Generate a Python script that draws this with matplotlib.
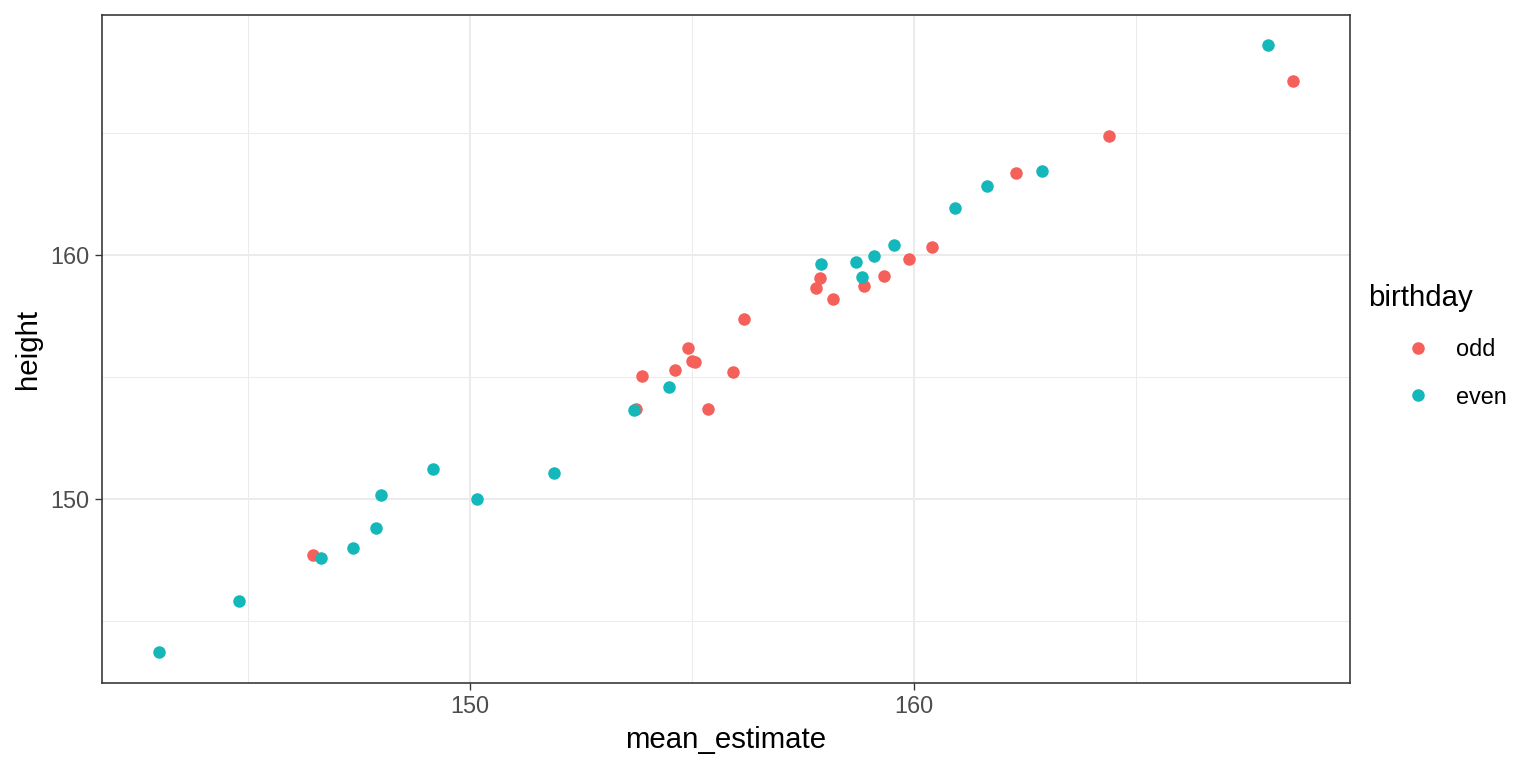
import matplotlib
matplotlib.use("Agg")
import matplotlib.pyplot as plt
from matplotlib.lines import Line2D
import numpy as np

plt.rcParams['font.family'] = ['Liberation Sans', 'DejaVu Sans']

# values
odd_x = [146.47, 153.73, 153.87, 154.61, 154.90, 155.01, 155.06, 155.35, 155.93, 156.18,
         157.80, 157.89, 158.18, 158.88, 159.33, 159.89, 160.40, 162.29, 164.40, 168.54]
odd_y = [147.71, 153.67, 155.02, 155.27, 156.18, 155.63, 155.59, 153.67, 155.18, 157.36,
         158.65, 159.06, 158.20, 158.73, 159.14, 159.80, 160.33, 163.35, 164.86, 167.10]
even_x = [142.99, 144.79, 146.65, 147.37, 147.89, 148.00, 149.17, 150.16, 151.89, 153.69,
          154.49, 157.91, 158.70, 158.83, 159.10, 159.54, 160.92, 161.64, 162.88, 167.96]
even_y = [143.71, 145.80, 147.59, 148.00, 148.82, 150.16, 151.22, 150.00, 151.06, 153.63,
          154.58, 159.62, 159.71, 159.10, 159.96, 160.41, 161.92, 162.82, 163.43, 168.57]
groups = ["odd", "even"]
colors = ["#F5605A", "#14B8BB"]

fig = plt.figure(figsize=(8, 4), dpi=192)
ax = fig.add_axes([0.0664, 0.111, 0.8125, 0.8695])

all_x = np.array(odd_x + even_x)
all_y = np.array(odd_y + even_y)
pad_x = 0.05 * (all_x.max() - all_x.min())
pad_y = 0.05 * (all_y.max() - all_y.min())
ax.set_xlim(all_x.min() - pad_x, all_x.max() + pad_x)
ax.set_ylim(all_y.min() - pad_y, all_y.max() + pad_y)

# theme_bw style grid
ax.set_xticks([150, 160])
ax.set_yticks([150, 160])
ax.set_xticks([145, 155, 165], minor=True)
ax.set_yticks([145, 155, 165], minor=True)
ax.grid(True, which='major', color='#EBEBEB', linewidth=0.75)
ax.grid(True, which='minor', color='#EBEBEB', linewidth=0.4)
ax.set_axisbelow(True)
ax.tick_params(which='major', length=2.75, width=0.5, color='#333333',
               labelsize=8.8, labelcolor='#4D4D4D', pad=2)
ax.tick_params(which='minor', length=0)
for s in ax.spines.values():
    s.set_color('#333333')
    s.set_linewidth(0.6)

ax.scatter(odd_x, odd_y, s=22, color=colors[0], linewidths=0, zorder=3)
ax.scatter(even_x, even_y, s=22, color=colors[1], linewidths=0, zorder=3)

ax.set_xlabel('mean_estimate', fontsize=11, labelpad=3)
ax.set_ylabel('height', fontsize=11, labelpad=3)

# legend: title placed separately so the keys sit indented like ggplot
fig.text(0.8906, 0.612, 'birthday', fontsize=11, ha='left', va='center')
handles = [Line2D([], [], marker='o', linestyle='', markersize=4.7,
                  markerfacecolor=c, markeredgewidth=0) for c in colors]
fig.legend(handles, groups, loc='center left',
           bbox_to_anchor=(0.911, 0.5137), frameon=False, fontsize=8.8,
           handletextpad=0.82, labelspacing=1.03,
           borderpad=0, borderaxespad=0, handlelength=1.6)

fig.savefig('out.png', dpi=192)
